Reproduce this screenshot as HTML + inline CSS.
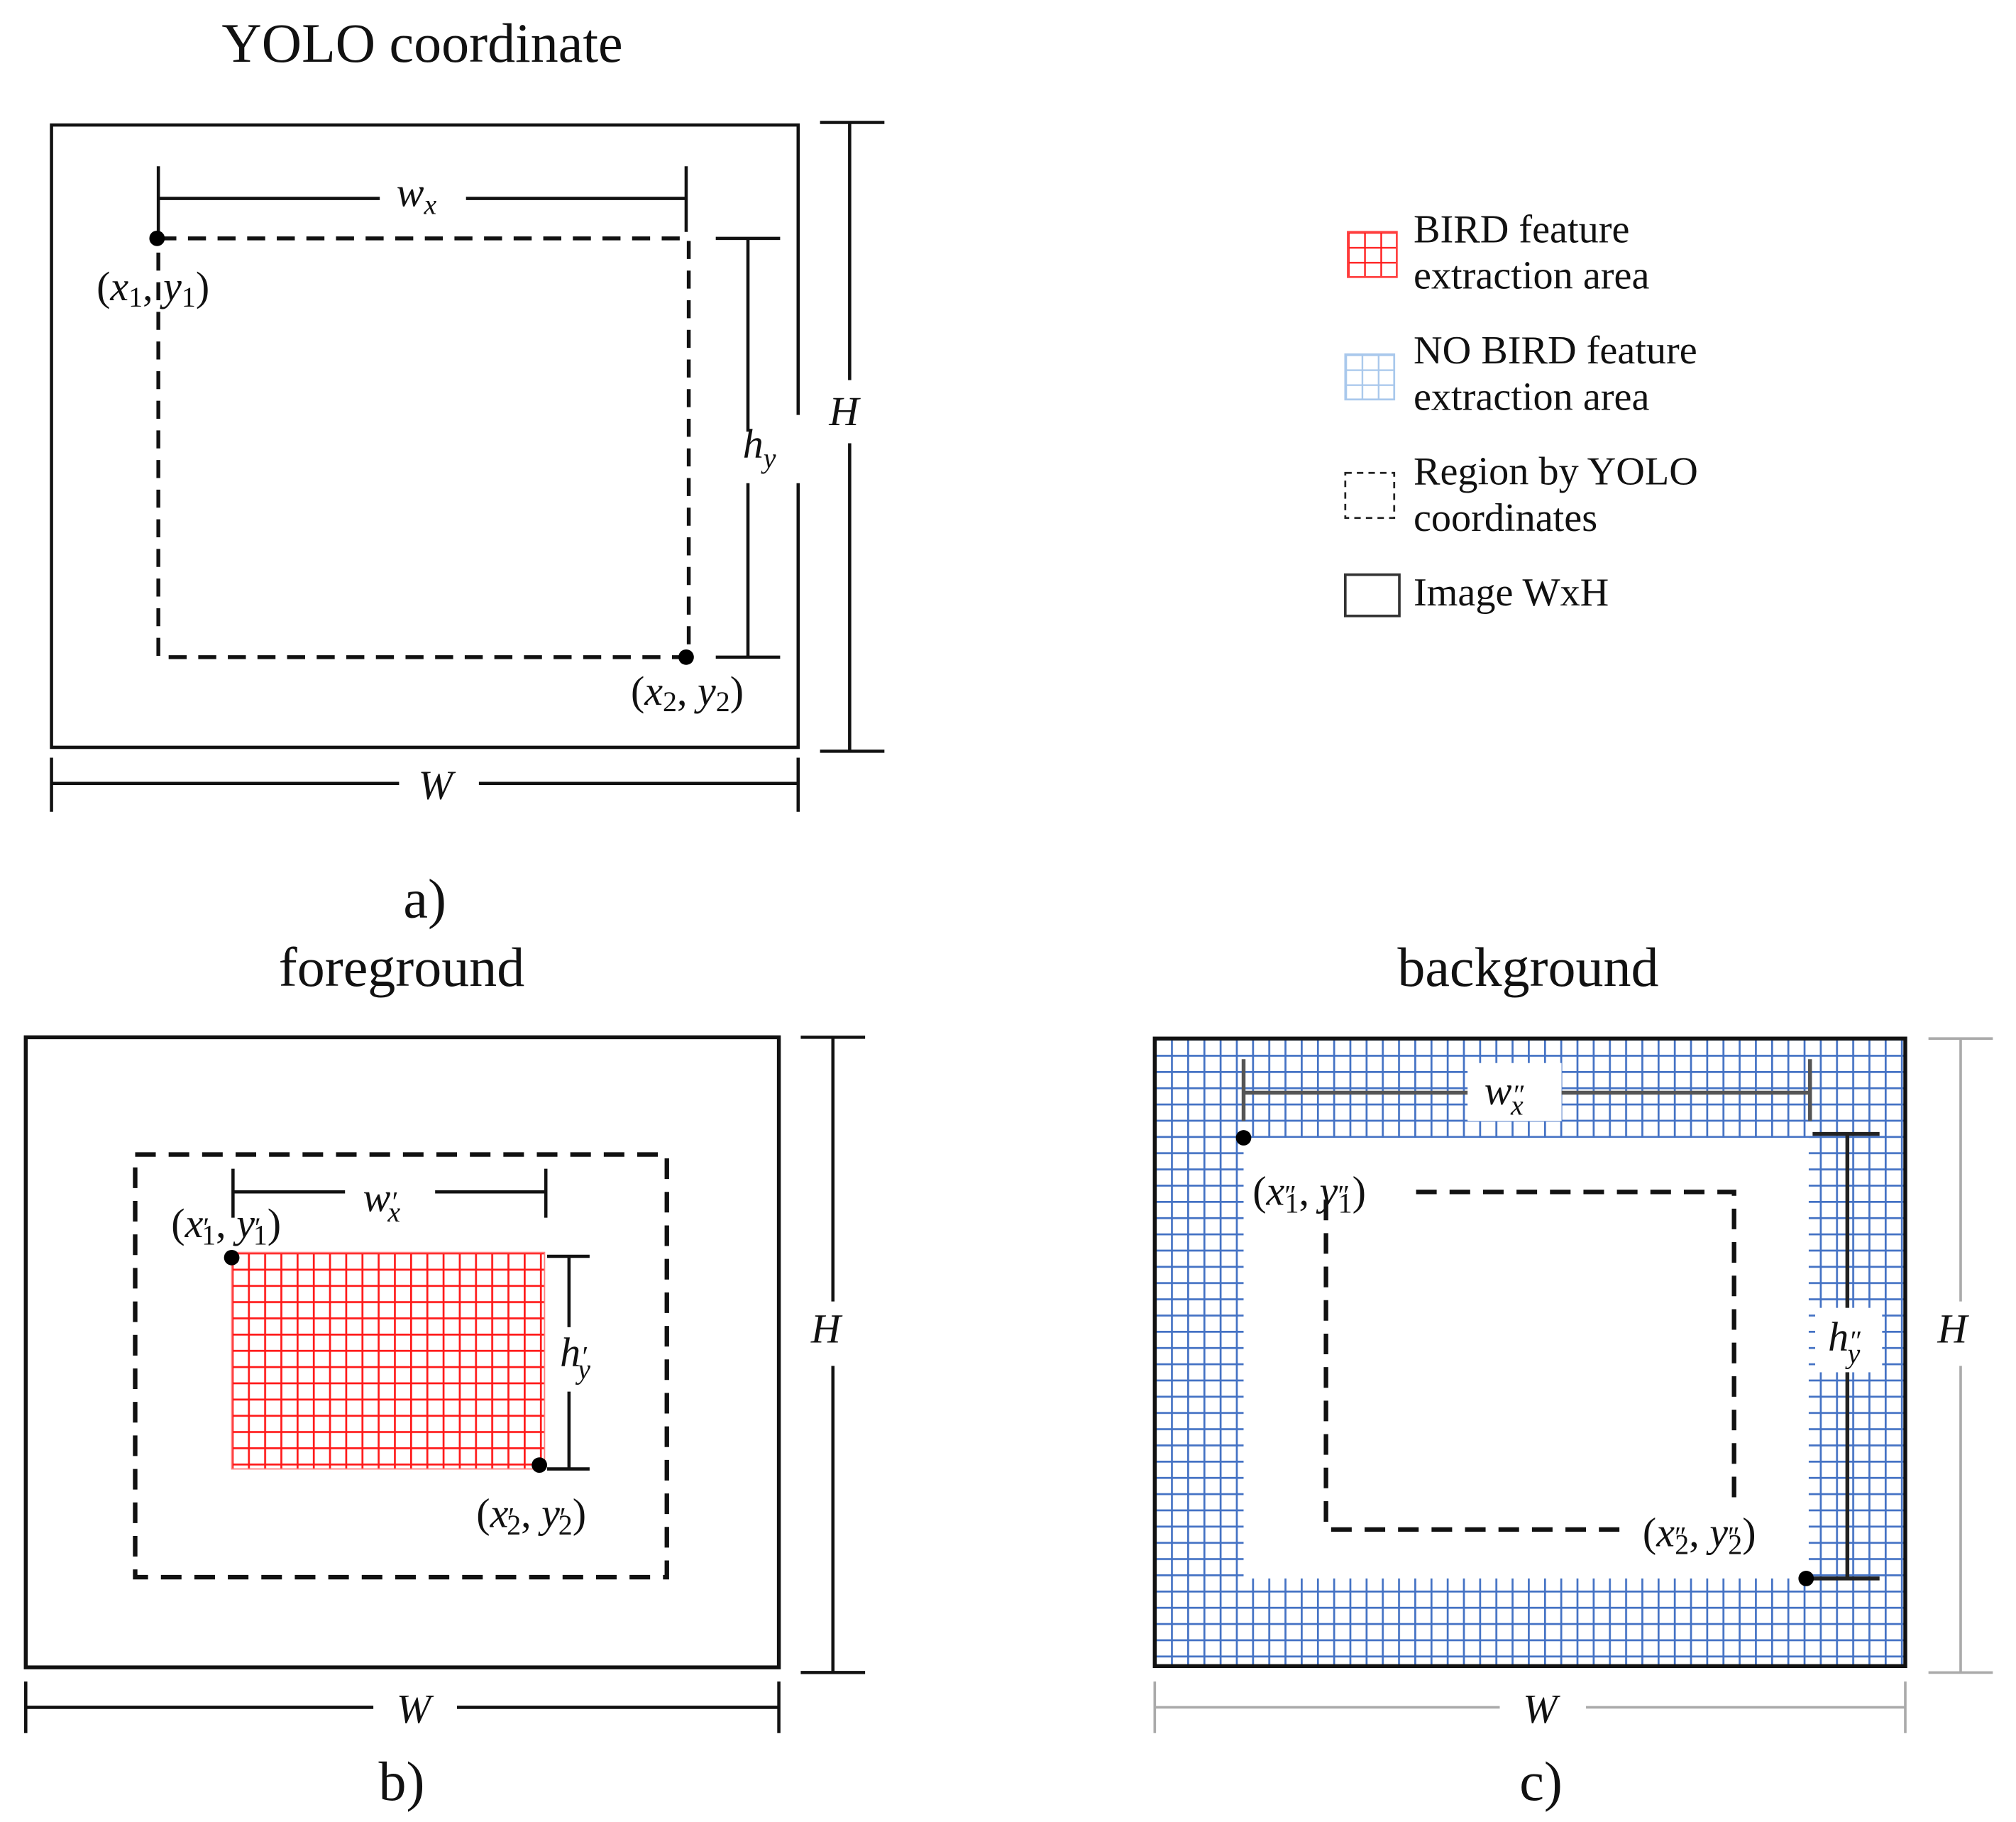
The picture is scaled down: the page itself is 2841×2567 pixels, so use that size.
<!DOCTYPE html>
<html><head><style>html,body{margin:0;padding:0;background:#fff}svg{display:block}</style></head>
<body>
<svg width="2841" height="2567" viewBox="0 0 1566 1414" preserveAspectRatio="none" xmlns="http://www.w3.org/2000/svg" font-family="Liberation Serif, serif">
<defs>
<pattern id="red" x="180" y="972" width="12.6" height="12.6" patternUnits="userSpaceOnUse"><path d="M0.7 0V12.6M0 0.7H12.6" stroke="#ff1a1a" stroke-width="1.6" fill="none"/></pattern>
<pattern id="blue" x="897" y="806" width="12.6" height="12.6" patternUnits="userSpaceOnUse"><path d="M0.7 0V12.6M0 0.7H12.6" stroke="#4472c4" stroke-width="1.6" fill="none"/></pattern>
<pattern id="lred" x="1047" y="180" width="12.6" height="11.6" patternUnits="userSpaceOnUse"><path d="M0.7 0V12M0 0.7H12.6" stroke="#ff1a1a" stroke-width="1.3" fill="none"/></pattern>
<pattern id="lblue" x="1045" y="275" width="12.6" height="11.6" patternUnits="userSpaceOnUse"><path d="M0.7 0V12M0 0.7H12.6" stroke="#a9c8ec" stroke-width="1.3" fill="none"/></pattern>
</defs>
<g fill="#111" font-size="43" text-anchor="middle">
<text x="328" y="48">YOLO coordinate</text>
<text x="330" y="712">a)</text>
<text x="312" y="765">foreground</text>
<text x="1187" y="765">background</text>
<text x="312" y="1397">b)</text>
<text x="1197" y="1397">c)</text>
</g>
<!-- Panel a -->
<g stroke="#111" fill="none">
<path d="M620 322V97H40V580H620V375" stroke-width="2.5"/>
<path d="M660 95V295M660 344V583M637 95H687M637 583H687" stroke-width="2.5"/>
<path d="M40 608H310M372 608H620M40 588V630M620 588V630" stroke-width="2.5"/>
<path d="M123 154H295M362 154H533M123 129V180M533 129V180" stroke-width="2.5"/>
<rect x="123" y="185" width="412" height="325" stroke-width="3" stroke-dasharray="14 9"/>
<path d="M581 185V335M581 375V510M556 185H606M556 510H606" stroke-width="2.5"/>
</g>
<circle cx="122" cy="185" r="6"/><circle cx="533" cy="510" r="6"/>
<g font-style="italic" font-size="32" fill="#111">
<text x="644" y="330">H</text>
<text x="325" y="620">W</text>
<text x="308" y="160">w<tspan font-size="22" dy="6">x</tspan></text>
<text x="577" y="355">h<tspan font-size="22" dy="8">y</tspan></text>
<text x="75" y="233" font-style="normal">(<tspan font-style="italic">x</tspan><tspan font-size="22" dy="5">1</tspan><tspan dy="-5">, </tspan><tspan font-style="italic">y</tspan><tspan font-size="22" dy="5">1</tspan><tspan dy="-5">)</tspan></text>
<text x="490" y="547" font-style="normal">(<tspan font-style="italic">x</tspan><tspan font-size="22" dy="5">2</tspan><tspan dy="-5">, </tspan><tspan font-style="italic">y</tspan><tspan font-size="22" dy="5">2</tspan><tspan dy="-5">)</tspan></text>
</g>
<!-- Legend -->
<rect x="1047" y="180" width="38" height="35" fill="url(#lred)" stroke="#ff4040" stroke-width="1.5"/>
<rect x="1045" y="275" width="38" height="35" fill="url(#lblue)" stroke="#a9c8ec" stroke-width="1.5"/>
<rect x="1045" y="367" width="38" height="35" fill="none" stroke="#222" stroke-width="1.5" stroke-dasharray="5 4"/>
<rect x="1045" y="446" width="42" height="32" fill="none" stroke="#333" stroke-width="2"/>
<g font-size="31" fill="#111">
<text x="1098" y="188">BIRD feature</text><text x="1098" y="224">extraction area</text>
<text x="1098" y="282">NO BIRD feature</text><text x="1098" y="318">extraction area</text>
<text x="1098" y="376">Region by YOLO</text><text x="1098" y="412">coordinates</text>
<text x="1098" y="470">Image WxH</text>
</g>
<!-- Panel b -->
<rect x="180" y="972" width="243" height="168" fill="url(#red)" stroke="#ff8080" stroke-width="1"/>
<g stroke="#111" fill="none">
<rect x="20" y="805" width="585" height="489" stroke-width="3"/>
<path d="M647 805V1010M647 1060V1298M622 805H672M622 1298H672" stroke-width="2.5"/>
<path d="M20 1325H290M355 1325H605M20 1305V1345M605 1305V1345" stroke-width="2.5"/>
<rect x="105" y="896" width="413" height="328" stroke-width="3.5" stroke-dasharray="16 10"/>
<path d="M181 925H268M338 925H424M181 907V945M424 907V945" stroke-width="2.5"/>
<path d="M442 975V1030M442 1080V1140M425 975H458M425 1140H458" stroke-width="2.5"/>
</g>
<circle cx="180" cy="976" r="6"/><circle cx="419" cy="1137" r="6"/>
<g font-size="32" fill="#111">
<text x="630" y="1042" font-style="italic">H</text>
<text x="308" y="1337" font-style="italic">W</text>
<text x="282" y="940" font-style="italic">w<tspan font-size="22">′</tspan><tspan font-size="22" dx="-7" dy="8">x</tspan></text>
<text x="435" y="1060" font-style="italic">h<tspan font-size="22">′</tspan><tspan font-size="22" dx="-7" dy="10">y</tspan></text>
<text x="133" y="960">(<tspan font-style="italic">x</tspan><tspan font-size="22">′</tspan><tspan font-size="22" dx="-6" dy="6">1</tspan><tspan dy="-6">, </tspan><tspan font-style="italic">y</tspan><tspan font-size="22">′</tspan><tspan font-size="22" dx="-6" dy="6">1</tspan><tspan dy="-6">)</tspan></text>
<text x="370" y="1185">(<tspan font-style="italic">x</tspan><tspan font-size="22">′</tspan><tspan font-size="22" dx="-6" dy="6">2</tspan><tspan dy="-6">, </tspan><tspan font-style="italic">y</tspan><tspan font-size="22">′</tspan><tspan font-size="22" dx="-6" dy="6">2</tspan><tspan dy="-6">)</tspan></text>
</g>
<!-- Panel c -->
<rect x="897" y="806" width="583" height="487" fill="url(#blue)"/>
<rect x="966" y="883" width="439" height="342" fill="#fff"/>
<rect x="1140" y="825" width="73" height="45" fill="#fff"/>
<rect x="1410" y="1015" width="52" height="50" fill="#fff"/>
<rect x="897" y="806" width="583" height="487" fill="none" stroke="#111" stroke-width="3"/>
<g stroke="#111" fill="none">
<path d="M1100 925H1347V1187H1030V925" stroke-width="3.5" stroke-dasharray="16 10"/>
<path d="M966 848H1140M1213 848H1406M966 822V870M1406 822V870" stroke="#555" stroke-width="3"/>
<path d="M1435 880V1015M1435 1065V1225M1408 880H1460M1408 1225H1460" stroke="#222" stroke-width="3"/>
</g>
<rect x="1258" y="1170" width="135" height="45" fill="#fff"/>
<g stroke="#aaa" fill="none" stroke-width="2">
<path d="M897 1325H1165M1232 1325H1480M897 1305V1345M1480 1305V1345"/>
<path d="M1523 806V1010M1523 1060V1298M1498 806H1548M1498 1298H1548"/>
</g>
<circle cx="966" cy="883" r="6"/><circle cx="1403" cy="1225" r="6"/>
<g font-size="32" fill="#111">
<text x="1505" y="1042" font-style="italic">H</text>
<text x="1183" y="1337" font-style="italic">W</text>
<text x="1153" y="857" font-style="italic">w<tspan font-size="22">″</tspan><tspan font-size="22" dx="-10" dy="8">x</tspan></text>
<text x="1420" y="1048" font-style="italic">h<tspan font-size="22">″</tspan><tspan font-size="22" dx="-10" dy="10">y</tspan></text>
<text x="973" y="935">(<tspan font-style="italic">x</tspan><tspan font-size="22">″</tspan><tspan font-size="22" dx="-9" dy="6">1</tspan><tspan dy="-6">, </tspan><tspan font-style="italic">y</tspan><tspan font-size="22">″</tspan><tspan font-size="22" dx="-9" dy="6">1</tspan><tspan dy="-6">)</tspan></text>
<text x="1276" y="1200">(<tspan font-style="italic">x</tspan><tspan font-size="22">″</tspan><tspan font-size="22" dx="-9" dy="6">2</tspan><tspan dy="-6">, </tspan><tspan font-style="italic">y</tspan><tspan font-size="22">″</tspan><tspan font-size="22" dx="-9" dy="6">2</tspan><tspan dy="-6">)</tspan></text>
</g>
</svg>
</body></html>
